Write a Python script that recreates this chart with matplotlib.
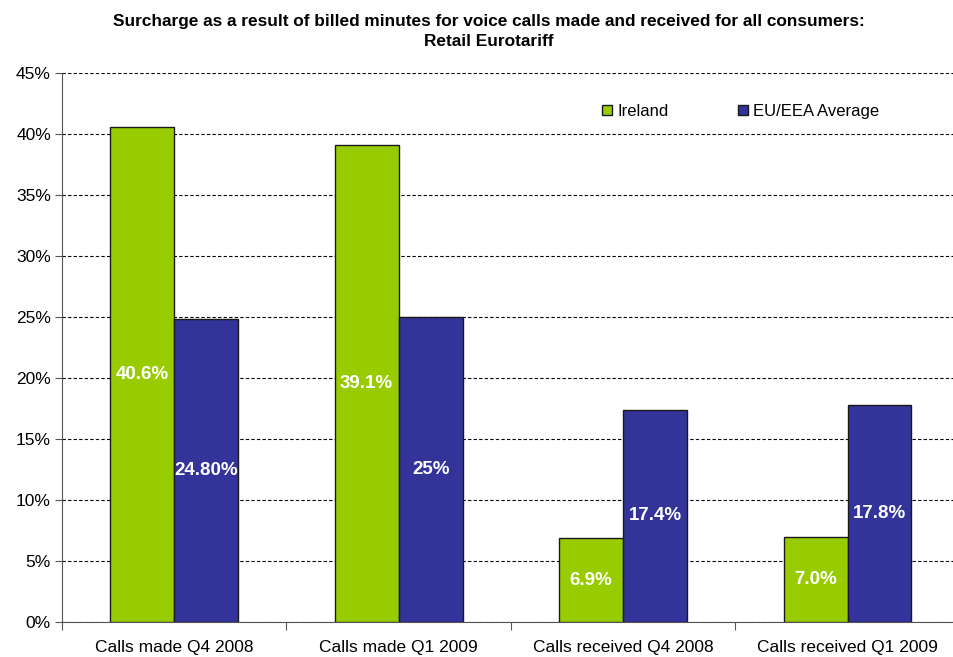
import numpy as np
import matplotlib.pyplot as plt
from matplotlib.ticker import FuncFormatter, MultipleLocator

plt.rcParams['font.family'] = ['Liberation Sans', 'DejaVu Sans']

# data
categories = ['Calls made Q4 2008', 'Calls made Q1 2009',
              'Calls received Q4 2008', 'Calls received Q1 2009']
ireland = [40.6, 39.1, 6.9, 7.0]
eu_avg = [24.8, 25.0, 17.4, 17.8]
ireland_labels = ['40.6%', '39.1%', '6.9%', '7.0%']
eu_labels = ['24.80%', '25%', '17.4%', '17.8%']

green = '#99cc00'
blue = '#333399'

fig = plt.figure(figsize=(9.54, 6.57), dpi=100)
ax = fig.add_axes([0.065, 0.053, 0.941, 0.836])

x = np.arange(len(categories))
w = 0.285
b1 = ax.bar(x - w / 2, ireland, w, color=green, edgecolor='#1a1a1a', linewidth=1, label='Ireland', zorder=3)
b2 = ax.bar(x + w / 2, eu_avg, w, color=blue, edgecolor='#1a1a1a', linewidth=1, label='EU/EEA Average', zorder=3)

for rect, lab in zip(b1, ireland_labels):
    ax.text(rect.get_x() + rect.get_width() / 2, rect.get_height() / 2, lab,
            ha='center', va='center', color='white', fontsize=13.5, fontweight='bold', zorder=4)
for rect, lab in zip(b2, eu_labels):
    ax.text(rect.get_x() + rect.get_width() / 2, rect.get_height() / 2, lab,
            ha='center', va='center', color='white', fontsize=13.5, fontweight='bold', zorder=4)

ax.set_xlim(-0.5, len(categories) - 0.5)
ax.set_ylim(0, 45)
ax.yaxis.set_major_locator(MultipleLocator(5))
ax.yaxis.set_major_formatter(FuncFormatter(lambda v, p: f'{v:.0f}%'))
ax.yaxis.grid(True, linestyle=(0, (3, 2)), color='black', linewidth=0.8, zorder=0)

ax.set_xticks(np.arange(len(categories) + 1) - 0.5)
ax.set_xticklabels([])
ax.set_xticks(x, minor=True)
ax.set_xticklabels(categories, minor=True)
ax.tick_params(axis='x', which='minor', length=0, labelsize=12.5, pad=13)
ax.tick_params(axis='x', which='major', length=6, direction='out', color='#555555')
ax.tick_params(axis='y', length=5, direction='out', labelsize=12.5, color='#555555', pad=3)

for s in ['top', 'right']:
    ax.spines[s].set_visible(False)
ax.spines['left'].set_color('#555555')
ax.spines['bottom'].set_color('#555555')

ax.legend(loc='center left', bbox_to_anchor=(0.585, 0.93), ncol=2, frameon=False,
          fontsize=12, handlelength=0.6, handleheight=0.6, columnspacing=4.2, handletextpad=0.3)

fig.suptitle('Surcharge as a result of billed minutes for voice calls made and received for all consumers:\nRetail Eurotariff',
             fontsize=12.4, fontweight='bold', x=0.512, y=0.978, linespacing=1.4)

fig.savefig('out.png', dpi=100)
